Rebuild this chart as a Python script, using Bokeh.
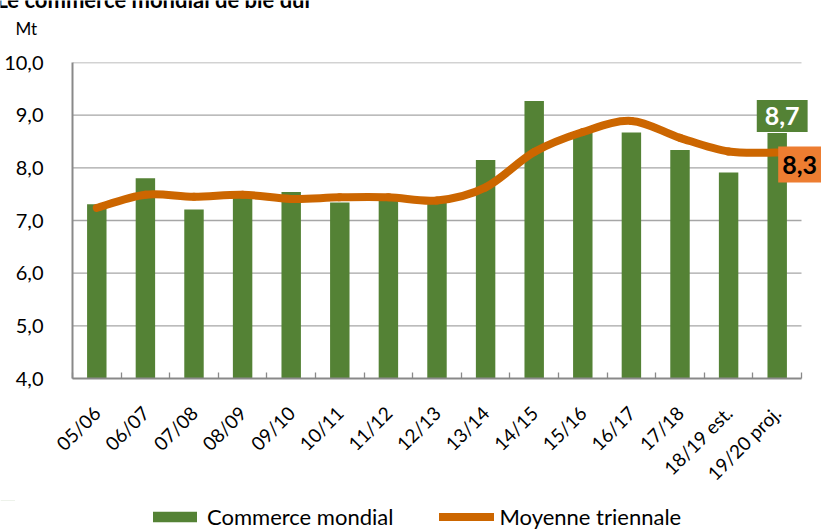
import numpy as np
from bokeh.plotting import figure
from bokeh.layouts import column
from bokeh.models import (Range1d, FixedTicker, CustomJSTickFormatter, Label, Legend,
                          LegendItem)
from bokeh.embed import file_html
from bokeh.resources import INLINE

title = "Le commerce mondial de blé dur"
unit = "Mt"
categories = ["05/06", "06/07", "07/08", "08/09", "09/10", "10/11", "11/12", "12/13",
              "13/14", "14/15", "15/16", "16/17", "17/18", "18/19 est.", "19/20 proj."]
commerce = [7.31, 7.80, 7.21, 7.47, 7.54, 7.34, 7.40, 7.36, 8.15, 9.27, 8.70, 8.67, 8.34, 7.91, 8.66]
moyenne = [7.24, 7.49, 7.45, 7.49, 7.41, 7.44, 7.44, 7.38, 7.63, 8.30, 8.68, 8.89, 8.57, 8.31, 8.29]
y_ticks = [4, 5, 6, 7, 8, 9, 10]

FONT = "Lato"
GREEN = "#548235"
LINE = "#CC6600"
ORANGE = "#ED7D31"
GRID = "#A6A6A6"
AXIS = "#898989"

W = 821
TOP_H = 44
FRAME_L = 72
FRAME_T = 18
FRAME_H = 316
FRAME_B = 122
MAIN_H = FRAME_T + FRAME_H + FRAME_B
BOT_H = 530 - TOP_H - MAIN_H
CAT_PX = 48.6  # pixel width of one category

n = len(categories)
x = list(range(n))


def strip(height):
    f = figure(width=W, height=height, output_backend="svg", toolbar_location=None,
               x_range=Range1d(0, W), y_range=Range1d(0, height),
               x_axis_type=None, y_axis_type=None, min_border=0,
               min_border_left=0, min_border_right=0, min_border_top=0, min_border_bottom=0)
    f.frame_align = False
    f.outline_line_color = None
    f.grid.visible = False
    return f


# ---------- top strip: title (cut by the page top) and unit ----------
top = strip(TOP_H)
top.add_layout(Label(x=-4, y=TOP_H + 1, text=title, text_font=FONT, text_font_size="22px",
                     text_font_style="bold", text_baseline="alphabetic", text_color="black"))
top.add_layout(Label(x=15, y=TOP_H - 28, text=unit, text_font=FONT, text_font_size="17px",
                     text_baseline="middle", text_color="black"))

# ---------- main chart ----------
x_end = -0.5 + (W - FRAME_L) / CAT_PX
p = figure(width=W, height=MAIN_H, output_backend="svg", toolbar_location=None,
           x_range=Range1d(-0.5, x_end), y_range=Range1d(y_ticks[0], y_ticks[-1]),
           min_border_left=FRAME_L, min_border_right=0, min_border_top=FRAME_T,
           min_border_bottom=FRAME_B)
p.frame_align = False
p.outline_line_color = None
p.xgrid.grid_line_color = None
p.ygrid.grid_line_color = None

# horizontal gridlines over the category span only
gy = y_ticks[1:]
p.segment(x0=[-0.5] * len(gy), x1=[n - 0.5] * len(gy), y0=gy, y1=gy,
          line_color=GRID, line_width=1.3)

bars = p.vbar(x=x, top=commerce, bottom=y_ticks[0], width=0.4, fill_color=GREEN, line_color=None)

# smoothed 3-year average line (cubic bezier segments through the data points)
xs = np.array(x, dtype=float)
ys = np.array(moyenne, dtype=float)
x0, y0, x1, y1, cx0, cy0, cx1, cy1 = [], [], [], [], [], [], [], []
for i in range(n - 1):
    im1 = max(i - 1, 0)
    ip2 = min(i + 2, n - 1)
    x0.append(xs[i]); y0.append(ys[i]); x1.append(xs[i + 1]); y1.append(ys[i + 1])
    cx0.append(xs[i] + (xs[i + 1] - xs[im1]) / 6); cy0.append(ys[i] + (ys[i + 1] - ys[im1]) / 6)
    cx1.append(xs[i + 1] - (xs[ip2] - xs[i]) / 6); cy1.append(ys[i + 1] - (ys[ip2] - ys[i]) / 6)
p.bezier(x0=x0, y0=y0, x1=x1, y1=y1, cx0=cx0, cy0=cy0, cx1=cx1, cy1=cy1,
         line_color=LINE, line_width=8, line_cap="round")

# axes
p.xaxis.bounds = (-0.5, n - 0.5)
p.xaxis.ticker = FixedTicker(ticks=x, minor_ticks=[i - 0.5 for i in range(n + 1)])
p.xaxis.major_label_overrides = {i: c for i, c in enumerate(categories)}
p.xaxis.major_label_orientation = np.pi / 4
p.xaxis.major_tick_line_color = None
p.xaxis.minor_tick_in = 6
p.xaxis.minor_tick_out = 0
p.xaxis.minor_tick_line_color = AXIS
p.xaxis.minor_tick_line_width = 1.3
p.xaxis.axis_line_color = AXIS
p.xaxis.axis_line_width = 2
p.xaxis.major_label_text_font = FONT
p.xaxis.major_label_text_font_size = "19px"
p.xaxis.major_label_text_color = "black"
p.xaxis.major_label_standoff = 25

p.yaxis.ticker = FixedTicker(ticks=y_ticks)
p.yaxis.formatter = CustomJSTickFormatter(code="return tick.toFixed(1).replace('.', ',');")
p.yaxis.major_tick_line_color = None
p.yaxis.minor_tick_line_color = None
p.yaxis.axis_line_color = AXIS
p.yaxis.axis_line_width = 2
p.yaxis.major_label_text_font = FONT
p.yaxis.major_label_text_font_size = "20px"
p.yaxis.major_label_text_color = "black"
p.yaxis.major_label_standoff = 23

# value labels for the last season
last_c = commerce[-1]
last_m = moyenne[-1]
p.add_layout(Label(x=x[-1], y=last_c, text=f"{last_c:.1f}".replace(".", ","),
                   text_align="center", text_baseline="bottom", y_offset=1, x_offset=5,
                   text_font=FONT, text_font_size="25px", text_font_style="bold",
                   text_color="white", background_fill_color=GREEN, padding=(8, 7)))
p.add_layout(Label(x=x[-1], y=last_m, text=f"{last_m:.1f}".replace(".", ","),
                   text_align="left", text_baseline="top", y_offset=6, x_offset=1,
                   text_font=FONT, text_font_size="25px", text_font_style="bold",
                   text_color="black", background_fill_color=ORANGE, padding=(4, 9)))

# ---------- bottom strip: legend ----------
bot = strip(BOT_H)
# the legend renderers carry the chart data but lie outside this strip's ranges
lg_bar = bot.vbar(x=x, top=commerce, bottom=y_ticks[0], width=0.4, fill_color=GREEN, line_color=None)
lg_line = bot.line(x=x, y=moyenne, line_color=LINE, line_width=8, line_cap="round")
bot.y_range = Range1d(-BOT_H - 100, -100)
legend = Legend(items=[LegendItem(label="Commerce mondial", renderers=[lg_bar]),
                       LegendItem(label="Moyenne triennale", renderers=[lg_line])],
                orientation="horizontal", location=(147, 0), padding=0, margin=0,
                border_line_color=None, background_fill_alpha=0,
                glyph_width=55, glyph_height=13, label_standoff=5, spacing=46,
                label_text_font=FONT, label_text_font_size="22px", label_text_color="black")
bot.add_layout(legend, "center")

layout = column(top, p, bot, spacing=0)
open("out.html", "w").write(file_html(layout, INLINE))
